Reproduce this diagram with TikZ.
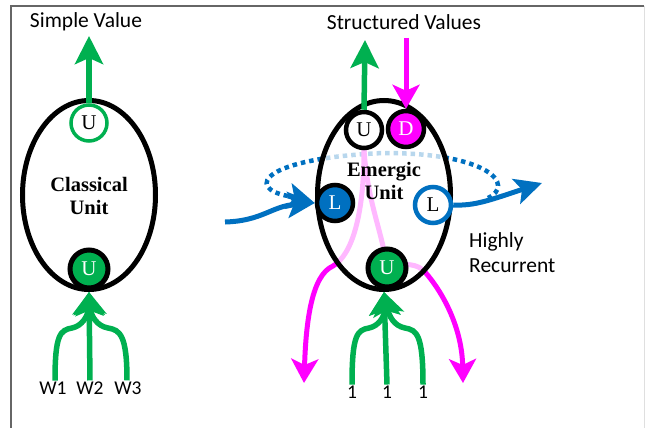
\documentclass[tikz,border=0pt]{standalone}
\usepackage{fontspec}
\setmainfont{Liberation Serif}
\setsansfont{Carlito}
\usetikzlibrary{arrows.meta,positioning,shapes.geometric}
\definecolor{ogreen}{HTML}{00B050}
\definecolor{oblue}{HTML}{0070C0}
\definecolor{omagenta}{HTML}{FF00FF}
\pgfdeclarelayer{back}
\pgfsetlayers{back,main}

\begin{document}
\begin{tikzpicture}[
    x=1pt, y=-1pt,
    unit/.style={draw, ellipse, line width=5pt, fill=white, minimum width=133pt, minimum height=189pt, inner sep=0pt},
    bold/.style={font=\bfseries\fontsize{20.5}{23.5}\selectfont, align=center, inner sep=0pt},
    cell/.style={draw, circle, line width=4.5pt, fill=white, minimum size=36pt, inner sep=0pt, font=\fontsize{21}{21}\selectfont},
    port/.style={cell, line width=5pt, minimum size=38pt, fill=ogreen, text=white},
    lbl/.style={font=\sffamily\fontsize{21.5}{25}\selectfont, inner sep=1pt},
    wlbl/.style={lbl, font=\sffamily\fontsize{19.5}{23}\selectfont},
    garrow/.style={ogreen, line width=5.5pt, -{Stealth[length=28pt, width=28pt, inset=6pt]}},
    gin/.style={ogreen, line width=5.5pt, -{Stealth[length=23pt, width=31pt, inset=5pt]}},
    parrow/.style={omagenta, line width=5pt, -{Stealth[length=24pt, width=27pt, inset=6pt]}},
    barrow/.style={oblue, line width=5pt, -{Stealth[length=27pt, width=26pt, inset=6pt]}},
    recur/.style={oblue, line width=4.5pt, dash pattern=on 4.5pt off 4pt}
]
\useasboundingbox (0,0) rectangle (645,428);
% frame
\draw[gray!80!black, line width=1.5pt] (11,428) -- (11,6) -- (644,6);
\draw[gray!25, line width=1pt] (644,6) -- (644,428);

% classical unit
\node[lbl] (sv) at (86,22) {Simple Value};
\node[unit] (cu) at (89,195) {};
\node[bold] at (89,196) {Classical\\Unit};
\node[cell, draw=ogreen, line width=3.5pt] (cuout) at (89,123) {U};
\node[port] (cuin) at (89,269) {U};
\node[wlbl] (w1) at (53,388) {W1};
\node[wlbl] (w2) at (90,388) {W2};
\node[wlbl] (w3) at (128,388) {W3};
\coordinate (svtip) at (89,36);

\draw[garrow] (cuout.north) -- (svtip);
\draw[gin] ([xshift=2pt]w1.north) .. controls (55,335) and (60,330) .. (72,328) .. controls (82,326) and (88,316) .. (cu.south);
\draw[gin] ([xshift=-1pt]w3.north) .. controls (127,335) and (120,330) .. (108,328) .. controls (97,326) and (91,316) .. (cu.south);
\draw[gin] (w2.north) -- (cu.south);

% emergic unit
\node[lbl] (stv) at (404,22) {Structured Values};
\node[unit, fill opacity=.72] (eu) at (384,195) {};
\node[bold] (et) at (384,181) {Emergic\\Unit};
\node[cell] (eo) at (364,130) {U};
\node[cell, fill=omagenta, text=white] (ed) at (406,129) {D};
\node[cell, fill=oblue, text=white] (ll) at (335,203) {L};
\node[cell, draw=oblue] (lr) at (433,205) {L};
\node[port] (ei) at (387,268) {U};
\node[lbl, align=left, anchor=west] (hr) at (468,253) {Highly\\Recurrent};
\node[wlbl] (o1) at (352,392) {1};
\node[wlbl] (o2) at (387,392) {1};
\node[wlbl] (o3) at (423,392) {1};
\coordinate (stvtip) at (365,40);
\coordinate (dsrc) at (406,38);
\coordinate (bin) at (225,222);
\coordinate (bout) at (542,183);
\coordinate (lpl) at (288,196);
\coordinate (rpl) at (488,198);
\coordinate (pl) at (304,383);
\coordinate (pr) at (463,383);

\draw[garrow] (eo.north) -- (stvtip);
\draw[parrow] (dsrc) -- (ed.north);
\draw[gin] (o1.north) .. controls (352,335) and (357,330) .. (369,328) .. controls (379,326) and (385,316) .. (eu.south);
\draw[gin] (o3.north) .. controls (423,335) and (417,330) .. (405,328) .. controls (394,326) and (389,316) .. (eu.south);
\draw[gin] (o2.north) -- (eu.south);

% recurrent links
\draw[barrow] (bin) .. controls (262,221) and (272,206) .. (ll.west);
\draw[barrow] (lpl) -- (ll.west);
\draw[barrow] (lr.east) .. controls (475,206) and (490,200) .. (bout);

\begin{pgfonlayer}{back}
\draw[recur] (lpl) .. controls (245,188) and (262,158) .. (384,153) .. controls (490,153) and (515,185) .. (rpl);
\draw[parrow] (eo.south) .. controls (364,215) and (352,255) .. (333,266) .. controls (312,275) and (306,320) .. (pl);
\draw[parrow] (eo.south) .. controls (368,205) and (382,230) .. (ei.center) .. controls (405,262) and (418,264) .. (425,272) .. controls (445,295) and (462,330) .. (pr);
\end{pgfonlayer}
\end{tikzpicture}
\end{document}
